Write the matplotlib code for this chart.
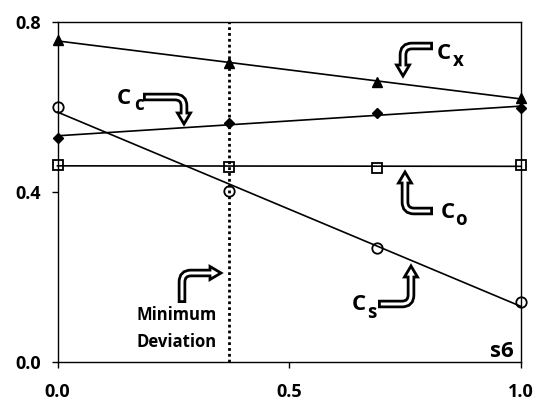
import numpy as np
import matplotlib
matplotlib.use("Agg")
import matplotlib.pyplot as plt
from matplotlib.path import Path
from matplotlib.patches import PathPatch, Polygon
from matplotlib.transforms import Affine2D

# ---- data ----
x_vals = [0.0, 0.371, 0.689, 1.0]
c_x = [0.756, 0.703, 0.659, 0.620]   # triangles
c_c = [0.527, 0.562, 0.585, 0.596]   # diamonds
c_o = [0.463, 0.459, 0.456, 0.463]   # squares
c_s = [0.599, 0.402, 0.267, 0.140]   # circles
min_dev_x = 0.371
x_ticks = [0.0, 0.5, 1.0]
x_ticklabels = ['0.0', '0.5', '1.0']
y_ticks = [0.0, 0.4, 0.8]
y_ticklabels = ['0.0', '0.4', '0.8']

plt.rcParams['font.family'] = ['Open Sans', 'DejaVu Sans']
plt.rcParams['font.weight'] = 'bold'

W, H = 537, 404
fig = plt.figure(figsize=(W / 100, H / 100), dpi=100)
ax = fig.add_axes([57.5 / W, 1 - 361.7 / H, (520.7 - 57.5) / W, (361.7 - 21.7) / H])
ax.set_xlim(0, 1)
ax.set_ylim(0, 0.8)

xs = np.array(x_vals)
xfit = np.array([0.0, 1.0])
series = [
    (c_x, dict(marker='^', ms=7.5, mfc='black', mec='black')),
    (c_c, dict(marker='D', ms=5.5, mfc='black', mec='black')),
    (c_o, dict(marker='s', ms=7, mfc='none', mec='black', mew=1.3)),
    (c_s, dict(marker='o', ms=7.5, mfc='none', mec='black', mew=1.3)),
]
for ys, style in series:
    coef = np.polyfit(xs, np.array(ys), 1)
    ax.plot(xfit, np.polyval(coef, xfit), color='black', lw=1.2, zorder=2, clip_on=False)
    ax.plot(xs, ys, linestyle='none', zorder=3, clip_on=False, **style)

ax.axvline(min_dev_x, color='black', lw=2.0, linestyle=(0, (1, 1.1)), zorder=1)

for s in ax.spines.values():
    s.set_linewidth(1.0)
ax.set_xticks(x_ticks)
ax.set_xticklabels(x_ticklabels)
ax.set_yticks(y_ticks)
ax.set_yticklabels(y_ticklabels)
ax.tick_params(axis='x', length=4.5, width=1.0, pad=11, labelsize=13)
ax.tick_params(axis='y', length=4, width=1.0, pad=8, labelsize=13)
for lab in ax.get_xticklabels() + ax.get_yticklabels():
    lab.set_fontweight('bold')

# pixel transform (y down)
tr = Affine2D().scale(1 / W, -1 / H).translate(0, 1) + fig.transFigure


def px(v):
    return v * 72 / 100


def bent_arrow(start, corner, end, r=9, shaft=8.5, inner=3, head_w=13, head_len=11):
    start, corner, end = map(np.array, (start, corner, end))
    d1 = (corner - start) / np.linalg.norm(corner - start)
    d2 = (end - corner) / np.linalg.norm(end - corner)
    n = np.array([-d2[1], d2[0]])
    tip = end + d2 * head_len
    head = Polygon([end + n * head_w / 2, tip, end - n * head_w / 2], closed=True,
                   facecolor='white', edgecolor='black', lw=px(2.8), joinstyle='miter',
                   transform=tr, zorder=5)
    fig.add_artist(head)
    p1 = corner - d1 * r
    p2 = corner + d2 * r
    codes = [Path.MOVETO, Path.LINETO, Path.CURVE3, Path.CURVE3, Path.LINETO]
    outer = Path([start, p1, corner, p2, end], codes)
    fig.add_artist(PathPatch(outer, facecolor='none', edgecolor='black', lw=px(shaft),
                             capstyle='butt', transform=tr, zorder=6))
    inner_path = Path([start + d1 * 2.8, p1, corner, p2, end + d2 * 3], codes)
    fig.add_artist(PathPatch(inner_path, facecolor='none', edgecolor='white', lw=px(inner),
                             capstyle='butt', transform=tr, zorder=7))


bent_arrow((433, 46), (403, 46), (403, 65))          # C_x
bent_arrow((143, 97), (184, 97), (184, 113))         # C_c
bent_arrow((433, 211), (405, 211), (405, 183))       # C_o
bent_arrow((378, 304), (411, 304), (411, 277))       # C_s
bent_arrow((182, 303), (182, 273), (210, 273))       # Minimum deviation


def ftext(x, y, s, size, **kw):
    fig.text(x, y, s, transform=tr, fontsize=size, fontweight='bold', **kw)


def clabel(x, y, sub, xs_, ys_):
    ftext(x, y, 'C', 16, ha='left', va='baseline')
    ftext(xs_, ys_, sub, 13.5, ha='left', va='baseline')


clabel(117, 104, 'c', 134, 110)
clabel(437, 59, 'x', 453, 66)
clabel(441, 218, 'o', 455, 225)
clabel(352, 310, 's', 367, 318)

ftext(177, 320, 'Minimum', 12, ha='center', va='baseline')
ftext(177, 347, 'Deviation', 12, ha='center', va='baseline')
ftext(514, 357, 's6', 16, ha='right', va='baseline')

fig.savefig('out.png', dpi=100)
